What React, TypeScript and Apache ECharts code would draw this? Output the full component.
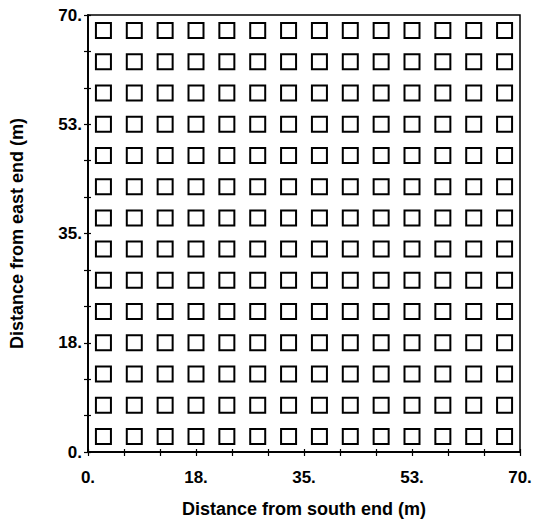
import React, { useEffect, useRef } from "react";
import * as echarts from "echarts";

// Plot positions (m) along each direction
const xPositions = [2.5, 7.5, 12.5, 17.5, 22.5, 27.5, 32.5, 37.5, 42.5, 47.5, 52.5, 57.5, 62.5, 67.5];
const yPositions = [2.5, 7.5, 12.5, 17.5, 22.5, 27.5, 32.5, 37.5, 42.5, 47.5, 52.5, 57.5, 62.5, 67.5];
const tickValues = [0, 17.5, 35, 52.5, 70];
const tickLabels = ["0.", "18.", "35.", "53.", "70."];
const xTitle = "Distance from south end (m)";
const yTitle = "Distance from east end (m)";

const fmt = (v: number) => {
  const i = tickValues.findIndex((t) => Math.abs(t - v) < 1e-6);
  return i >= 0 ? tickLabels[i] : "";
};

export default function App() {
  const ref = useRef<HTMLDivElement>(null);
  useEffect(() => {
    if (!ref.current) return;
    const chart = echarts.init(ref.current, undefined, { renderer: "svg" });
    const data: number[][] = [];
    for (const x of xPositions) for (const y of yPositions) data.push([x, y]);
    const font = "'Liberation Sans', Arial, sans-serif";
    const baseAxis = (extra: any) => ({
      type: "value",
      min: 0,
      max: 70,
      interval: 17.5,
      splitLine: { show: false },
      axisLine: { show: true, onZero: false, lineStyle: { color: "#000", width: 1.5 } },
      ...extra,
    });
    chart.setOption({
      animation: false,
      backgroundColor: "#fff",
      grid: {
        left: 82,
        right: 20,
        top: 15,
        bottom: 72,
        show: true,
        borderColor: "#000",
        borderWidth: 1.5,
        backgroundColor: "transparent",
      },
      xAxis: [
        baseAxis({
          position: "bottom",
          name: xTitle,
          nameLocation: "middle",
          nameGap: 48,
          nameTextStyle: { fontFamily: font, fontWeight: "bold", fontSize: 18, color: "#000" },
          axisTick: { show: true, inside: false, length: 4, lineStyle: { color: "#000", width: 1.2 } },
          minorTick: { show: true, splitNumber: 3, length: 4, lineStyle: { color: "#000", width: 1.2 } },
          axisLabel: { formatter: fmt, fontFamily: font, fontWeight: "bold", fontSize: 17, color: "#000", margin: 17 },
        }),
        baseAxis({
          position: "bottom",
          axisTick: { show: true, inside: true, length: 3, lineStyle: { color: "#000", width: 1.2 } },
          minorTick: { show: true, splitNumber: 3, length: 3, lineStyle: { color: "#000", width: 1.2 } },
          axisLabel: { show: false },
        }),
      ],
      yAxis: [
        baseAxis({
          position: "left",
          name: yTitle,
          nameLocation: "middle",
          nameGap: 62,
          nameTextStyle: { fontFamily: font, fontWeight: "bold", fontSize: 18, color: "#000" },
          axisTick: { show: true, inside: false, length: 4, lineStyle: { color: "#000", width: 1.2 } },
          minorTick: { show: true, splitNumber: 3, length: 4, lineStyle: { color: "#000", width: 1.2 } },
          axisLabel: { formatter: fmt, fontFamily: font, fontWeight: "bold", fontSize: 17, color: "#000", margin: 6 },
        }),
        baseAxis({
          position: "left",
          axisTick: { show: true, inside: true, length: 3, lineStyle: { color: "#000", width: 1.2 } },
          minorTick: { show: true, splitNumber: 3, length: 3, lineStyle: { color: "#000", width: 1.2 } },
          axisLabel: { show: false },
        }),
      ],
      series: [
        {
          type: "scatter",
          xAxisIndex: 0,
          yAxisIndex: 0,
          data,
          symbol: "rect",
          symbolSize: 15,
          itemStyle: { color: "#fff", borderColor: "#000", borderWidth: 2, opacity: 1 },
        },
      ],
    });
    return () => chart.dispose();
  }, []);
  return (
    <div
      ref={ref}
      style={{ position: "fixed", left: 0, top: 0, width: 540, height: 524, background: "#fff" }}
    />
  );
}
